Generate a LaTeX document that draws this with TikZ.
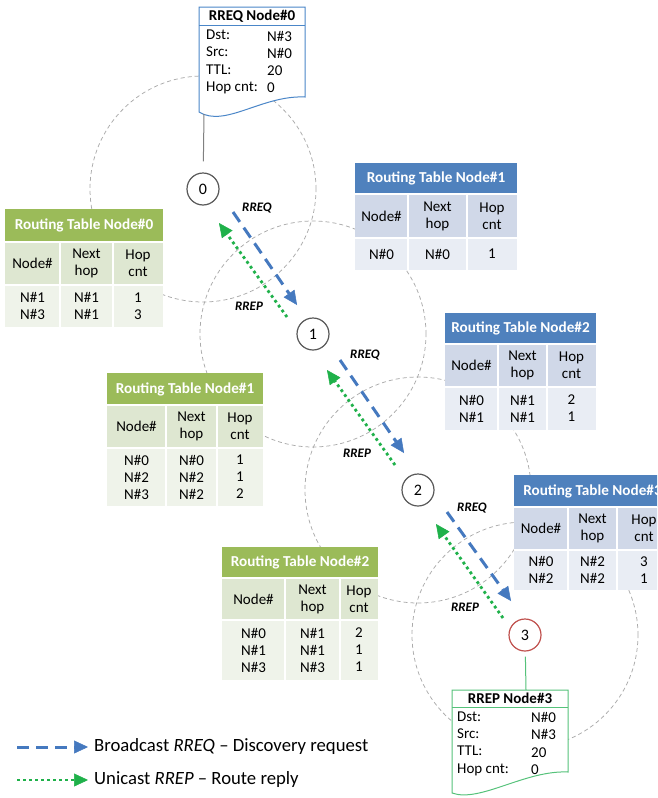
\documentclass[tikz,border=0pt]{standalone}
\usepackage{fontspec}
\setmainfont{Carlito}
\usetikzlibrary{arrows.meta}
\definecolor{bluehead}{HTML}{4F81BD}
\definecolor{bluesub}{HTML}{D0D8E8}
\definecolor{bluedata}{HTML}{E9EDF4}
\definecolor{greenhead}{HTML}{9BBB59}
\definecolor{greensub}{HTML}{DEE7D1}
\definecolor{greendata}{HTML}{EFF3EA}
\definecolor{rangegray}{HTML}{ABABAB}
\definecolor{nodegray}{HTML}{595959}
\definecolor{linkgray}{HTML}{808080}
\definecolor{nodered}{HTML}{C0504D}
\definecolor{reqblue}{HTML}{4579BF}
\definecolor{repgreen}{HTML}{1FB14A}
\definecolor{boxblue}{HTML}{4A86C8}
\definecolor{boxgreen}{HTML}{55C27A}
\tikzset{
  rangecircle/.style={draw=rangegray, line width=0.75pt, dash pattern=on 4pt off 3pt},
  netnode/.style={circle, draw=nodegray, line width=1.2pt, fill=white, minimum size=32pt, inner sep=0pt, font=\fontsize{16}{18}\selectfont},
  ttitle/.style={text=white, font=\fontsize{15.2}{17}\selectfont\bfseries, inner sep=0pt},
  tcell/.style={align=center, font=\fontsize{15}{17}\selectfont, inner sep=0pt, text=black},
  cellline/.style={white, line width=1.5pt},
  rreqarrow/.style={draw=reqblue, line width=3pt, dash pattern=on 12pt off 7pt, -{Triangle[length=14pt,width=13pt,line width=0.5pt]}},
  rreparrow/.style={draw=repgreen, line width=2.8pt, dash pattern=on 2.8pt off 3.2pt, -{Triangle[length=14pt,width=13pt,line width=0.5pt]}},
  msglabel/.style={font=\fontsize{13}{15}\selectfont\bfseries\itshape, inner sep=0pt},
  boxtitle/.style={font=\fontsize{15}{17}\selectfont\bfseries, inner sep=0pt},
  boxtext/.style={font=\fontsize{15}{17.3}\selectfont, align=left, inner sep=0pt, anchor=west},
  legendtext/.style={font=\fontsize{18.7}{21}\selectfont, inner sep=0pt, anchor=west},
}
\makeatletter
\def\rt@x#1,#2,#3,#4\relax{\def\rtXa{#1}\def\rtXb{#2}\def\rtXc{#3}\def\rtXd{#4}}
\def\rt@y#1,#2,#3,#4\relax{\def\rtYa{#1}\def\rtYb{#2}\def\rtYc{#3}\def\rtYd{#4}}
\newcommand\rtab[8]{%
  \rt@x#3\relax \rt@y#4\relax
  \fill[#2head] (\rtXa,\rtYa) rectangle (\rtXd,\rtYb);
  \fill[#2sub] (\rtXa,\rtYb) rectangle (\rtXd,\rtYc);
  \fill[#2data] (\rtXa,\rtYc) rectangle (\rtXd,\rtYd);
  \draw[cellline] (\rtXa,\rtYb) -- (\rtXd,\rtYb) (\rtXa,\rtYc) -- (\rtXd,\rtYc)
     (\rtXb,\rtYb) -- (\rtXb,\rtYd) (\rtXc,\rtYb) -- (\rtXc,\rtYd);
  \node[ttitle] (#1-title) at ({(\rtXa+\rtXd)/2},{(\rtYa+\rtYb)/2}) {#5};
  \node[tcell] (#1-h1) at ({(\rtXa+\rtXb)/2},{(\rtYb+\rtYc)/2}) {Node\#};
  \node[tcell] (#1-h2) at ({(\rtXb+\rtXc)/2},{(\rtYb+\rtYc)/2}) {Next\\hop};
  \node[tcell] (#1-h3) at ({(\rtXc+\rtXd)/2},{(\rtYb+\rtYc)/2}) {Hop\\cnt};
  \node[tcell] (#1-c1) at ({(\rtXa+\rtXb)/2},{(\rtYc+\rtYd)/2}) {#6};
  \node[tcell] (#1-c2) at ({(\rtXb+\rtXc)/2},{(\rtYc+\rtYd)/2}) {#7};
  \node[tcell] (#1-c3) at ({(\rtXc+\rtXd)/2},{(\rtYc+\rtYd)/2}) {#8};
}
\makeatother
\begin{document}
\begin{tikzpicture}[x=1pt,y=-1pt]
\useasboundingbox (0,0) rectangle (657,798);
\clip (0,0) rectangle (657,798);
\fill[white] (0,0) rectangle (657,798);
% network nodes (positions)
\coordinate (p0) at (203,189);
\coordinate (p1) at (313,334);
\coordinate (p2) at (418,490);
\coordinate (p3) at (525,635);
% radio ranges
\draw[rangecircle] (p0) circle[radius=113pt];
\draw[rangecircle] (p1) circle[radius=113pt];
\draw[rangecircle] (p2) circle[radius=113pt];
\draw[rangecircle] (p3) circle[radius=113pt];
% routing tables
\rtab{t0}{green}{5,60,113,163}{209,242,285,327}{Routing Table Node\#0}{N\#1\\N\#3}{N\#1\\N\#1}{1\\3}
\rtab{t1b}{blue}{355,408,467,517}{163,194,238,270}{Routing Table Node\#1}{N\#0}{N\#0}{1}
\rtab{t2b}{blue}{445,498,547,596}{313,344,387,430}{Routing Table Node\#2}{N\#0\\N\#1}{N\#1\\N\#1}{2\\1}
\rtab{t1g}{green}{107,166,217,263}{373,405,448,506}{Routing Table Node\#1}{N\#0\\N\#2\\N\#3}{N\#0\\N\#2\\N\#2}{1\\1\\2}
\rtab{t3b}{blue}{514,568,617,671}{475,507,550,590}{Routing Table Node\#3}{N\#0\\N\#2}{N\#2\\N\#2}{3\\1}
\rtab{t2g}{green}{222,285,340,378}{547,578,620,680}{Routing Table Node\#2}{N\#0\\N\#1\\N\#3}{N\#1\\N\#1\\N\#3}{2\\1\\1}
% RREQ message box
\filldraw[fill=white, draw=boxblue, line width=1pt] (199,7) -- (305,7) -- (305,97)
  .. controls (262,95) and (225,128) .. (199,112) -- cycle;
\draw[boxblue, line width=1pt] (199,25) -- (305,25);
\node[boxtitle] (rreq-title) at (252,16.5) {RREQ Node\#0};
\node[boxtext] (rreq-lab) at (206,62) {Dst:\\Src:\\TTL:\\Hop cnt:};
\node[boxtext] (rreq-val) at (267,62) {N\#3\\N\#0\\20\\0};
\coordinate (rreqbot) at (204,114);
% RREP message box
\filldraw[fill=white, draw=boxgreen, line width=1pt] (452,690) -- (568,690) -- (568,772)
  .. controls (525,770) and (480,803) .. (452,793) -- cycle;
\draw[boxgreen, line width=1pt] (452,707) -- (568,707);
\node[boxtitle] (rrep-title) at (510,698.5) {RREP Node\#3};
\node[boxtext] (rrep-lab) at (457,743.5) {Dst:\\Src:\\TTL:\\Hop cnt:};
\node[boxtext] (rrep-val) at (531,743.5) {N\#0\\N\#3\\20\\0};
\coordinate (rreptop) at (526,690);
% nodes
\node[netnode] (n0) at (p0) {0};
\node[netnode] (n1) at (p1) {1};
\node[netnode] (n2) at (p2) {2};
\node[netnode, draw=nodered] (n3) at (p3) {3};
\draw[linkgray, line width=1pt, shorten >=11pt] (rreqbot) -- (n0);
\draw[boxgreen, line width=1pt, shorten <=5pt] (n3) -- (rreptop);
% message arrows
\coordinate (q01a) at (233,212); \coordinate (q01b) at (297,305);
\coordinate (r10a) at (287,317); \coordinate (r10b) at (219,223);
\coordinate (q12a) at (340,360); \coordinate (q12b) at (404,453);
\coordinate (r21a) at (395,465); \coordinate (r21b) at (327,370);
\coordinate (q23a) at (447,512); \coordinate (q23b) at (511,601);
\coordinate (r32a) at (503,618); \coordinate (r32b) at (436,524);
\draw[rreqarrow] (q01a) -- (q01b);
\draw[rreparrow] (r10a) -- (r10b);
\draw[rreqarrow] (q12a) -- (q12b);
\draw[rreparrow] (r21a) -- (r21b);
\draw[rreqarrow] (q23a) -- (q23b);
\draw[rreparrow] (r32a) -- (r32b);
\node[msglabel] (lq01) at (257,208) {RREQ};
\node[msglabel] (lr10) at (249,306) {RREP};
\node[msglabel] (lq12) at (365,355) {RREQ};
\node[msglabel] (lr21) at (357,453) {RREP};
\node[msglabel] (lq23) at (472,508) {RREQ};
\node[msglabel] (lr32) at (465,607) {RREP};
% legend
\coordinate (lga) at (17,747); \coordinate (lgb) at (88,747);
\coordinate (lgc) at (17,780); \coordinate (lgd) at (88,780);
\draw[rreqarrow] (lga) -- (lgb);
\draw[rreparrow] (lgc) -- (lgd);
\node[legendtext] (leg1) at (94,747) {Broadcast \textit{RREQ} – Discovery request};
\node[legendtext] (leg2) at (94,780) {Unicast \textit{RREP} – Route reply};
\end{tikzpicture}
\end{document}
